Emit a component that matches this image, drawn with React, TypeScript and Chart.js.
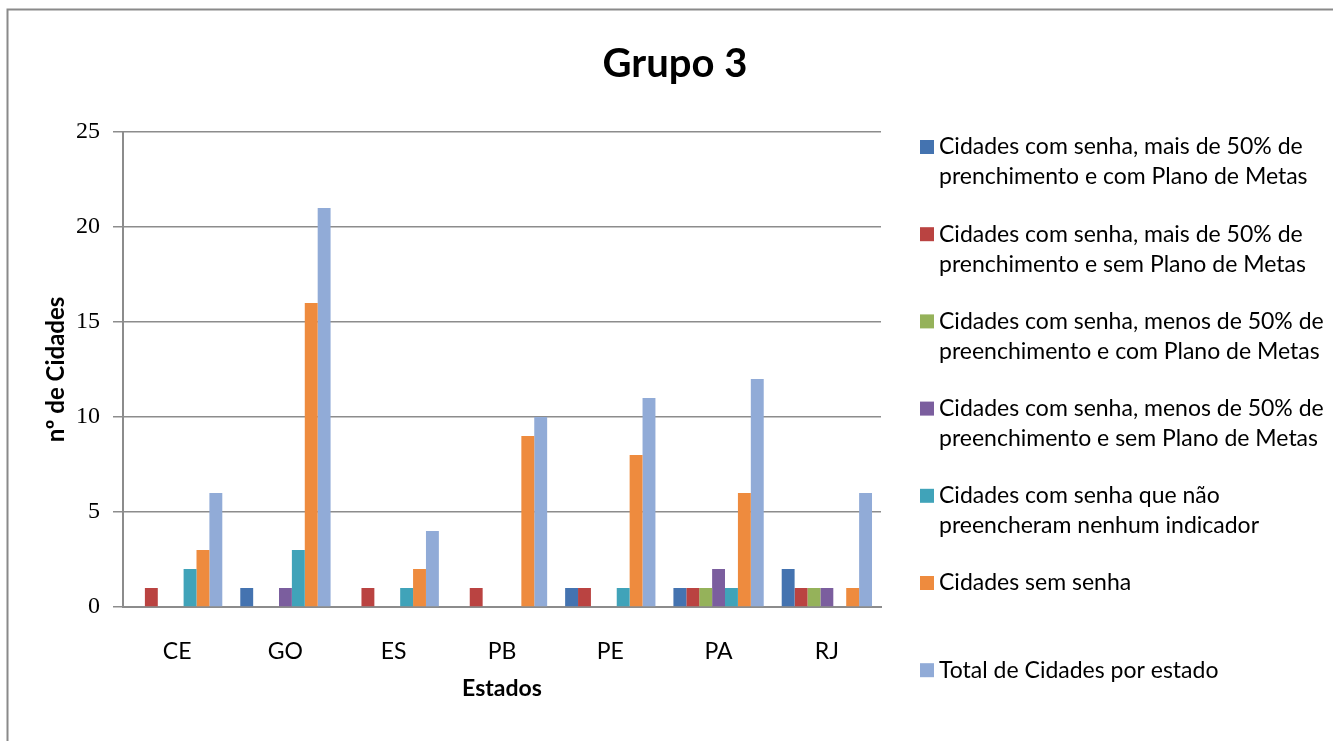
import React, { useEffect, useRef } from "react";
import { Chart, registerables } from "chart.js";

Chart.register(...registerables);

const categories = ["CE", "GO", "ES", "PB", "PE", "PA", "RJ"];

const seriesLabels: string[][] = [
  ["Cidades com senha, mais de 50% de", "prenchimento e com Plano de Metas"],
  ["Cidades com senha, mais de 50% de", "prenchimento e sem Plano de Metas"],
  ["Cidades com senha, menos de 50% de", "preenchimento e com Plano de Metas"],
  ["Cidades com senha, menos de 50% de", "preenchimento e sem Plano de Metas"],
  ["Cidades com senha que não", "preencheram nenhum indicador"],
  ["Cidades sem senha"],
  ["Total de Cidades por estado"],
];

const maisComPlano = [0, 1, 0, 0, 1, 1, 2];
const maisSemPlano = [1, 0, 1, 1, 1, 1, 1];
const menosComPlano = [0, 0, 0, 0, 0, 1, 1];
const menosSemPlano = [0, 1, 0, 0, 0, 2, 1];
const naoPreencheram = [2, 3, 1, 0, 1, 1, 0];
const semSenha = [3, 16, 2, 9, 8, 6, 1];
const totalPorEstado = [6, 21, 4, 10, 11, 12, 6];

const seriesColors = ["#4473B0", "#BA4341", "#95B25A", "#7B5E9E", "#40A3B9", "#EE8B3E", "#91ABD7"];

const yMin = 0;
const yMax = 25;
const yStep = 5;

const chartTitle = "Grupo 3";
const yTitle = "nº de Cidades";
const xTitle = "Estados";

const FONT = "Lato, 'Open Sans', sans-serif";

const decorPlugin = {
  id: "decor",
  afterDraw(chart: any) {
    const ctx = chart.ctx;
    ctx.save();
    // outer frame
    ctx.strokeStyle = "#8a8a8a";
    ctx.lineWidth = 2;
    ctx.strokeRect(7.5, 9.5, 2000, 2000);
    // legend
    const boxX = 920;
    const textX = 939;
    const firstY = 147;
    const itemGap = 87.2;
    const lineGap = 30;
    ctx.font = `23px ${FONT}`;
    ctx.textBaseline = "middle";
    ctx.textAlign = "left";
    chart.data.datasets.forEach((ds: any, i: number) => {
      const y = firstY + i * itemGap;
      ctx.fillStyle = ds.backgroundColor;
      ctx.fillRect(boxX, y - 7, 14, 14);
      ctx.fillStyle = "#000";
      seriesLabels[i].forEach((line, j) => {
        ctx.fillText(line, textX, y + j * lineGap);
      });
    });
    ctx.restore();
  },
};

export default function App() {
  const ref = useRef<HTMLCanvasElement | null>(null);

  useEffect(() => {
    const canvas = ref.current;
    if (!canvas) return;
    const seriesData = [maisComPlano, maisSemPlano, menosComPlano, menosSemPlano, naoPreencheram, semSenha, totalPorEstado];
    const chart = new Chart(canvas, {
      type: "bar",
      data: {
        labels: categories,
        datasets: seriesData.map((d, i) => ({
          label: seriesLabels[i].join(" "),
          data: d,
          backgroundColor: seriesColors[i],
          borderWidth: 0,
          yAxisID: "y",
          categoryPercentage: 0.834,
          barPercentage: 1.0,
        })),
      },
      options: {
        responsive: false,
        animation: false,
        devicePixelRatio: 1,
        layout: { padding: { left: 42, right: 25, top: 0, bottom: 30 } },
        plugins: {
          legend: { display: false },
          tooltip: { enabled: false },
          title: {
            display: true,
            text: chartTitle,
            color: "#000",
            font: { family: FONT, size: 40, weight: "bold" },
            padding: { top: 40, bottom: 44 },
          },
        },
        scales: {
          x: {
            grid: { display: false, drawTicks: false },
            border: { display: true, color: "#8c8c8c", width: 2 },
            ticks: { color: "#000", font: { family: FONT, size: 23 }, padding: 31 },
            title: {
              display: true,
              text: xTitle,
              color: "#000",
              font: { family: FONT, size: 23, weight: "bold" },
              padding: { top: 0, bottom: 9 },
            },
            afterFit(scale: any) {
              scale.height = 104;
            },
          },
          y: {
            min: yMin,
            max: yMax,
            grid: { color: "#8c8c8c", lineWidth: 1.5, drawTicks: true, tickLength: 10 },
            border: { display: true, color: "#8c8c8c", width: 2 },
            ticks: {
              stepSize: yStep,
              color: "#000",
              font: { family: "'Liberation Serif', serif", size: 24 },
              padding: 13,
            },
            title: {
              display: true,
              text: yTitle,
              color: "#000",
              font: { family: FONT, size: 24, weight: "bold" },
              padding: { top: 0, bottom: 0 },
            },
            afterFit(scale: any) {
              scale.width = 81;
            },
          },
          yr: {
            type: "linear",
            position: "right",
            display: true,
            grid: { display: false, drawTicks: false },
            border: { display: false },
            ticks: { display: false },
            afterFit(scale: any) {
              scale.width = 427;
            },
          },
        },
      } as any,
      plugins: [decorPlugin],
    });
    return () => chart.destroy();
  }, []);

  return (
    <canvas
      ref={ref}
      width={1333}
      height={741}
      style={{ position: "fixed", left: 0, top: 0, width: 1333, height: 741, display: "block" }}
    />
  );
}
